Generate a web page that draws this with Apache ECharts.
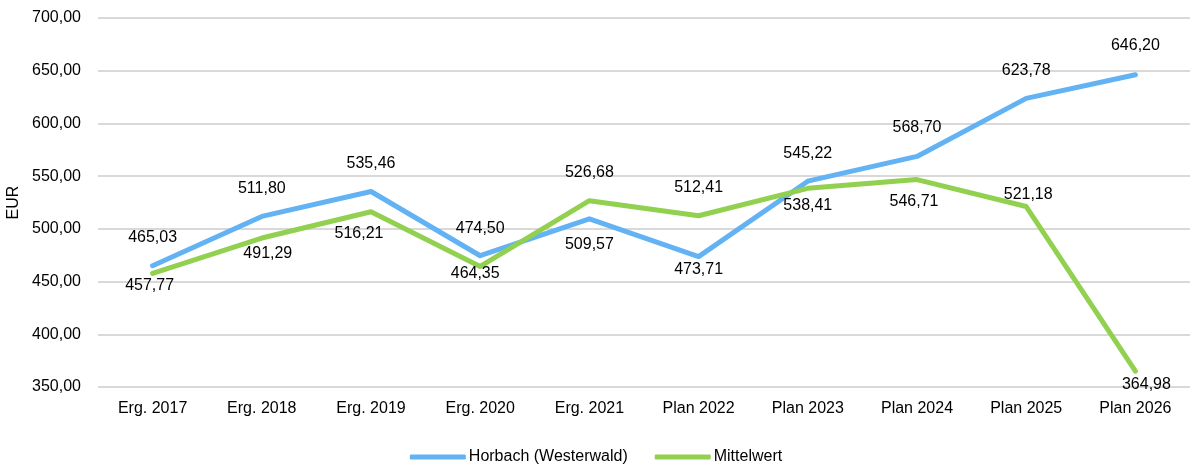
<!DOCTYPE html>
<html>
<head>
<meta charset="utf-8">
<script src="https://cdn.jsdelivr.net/npm/echarts@6/dist/echarts.min.js"></script>
<style>
  html, body { margin: 0; padding: 0; background: #fff; }
  #chart { width: 1192px; height: 468px; }
</style>
</head>
<body>
<div id="chart"></div>
<script>
// Daten
const categories = ['Erg. 2017', 'Erg. 2018', 'Erg. 2019', 'Erg. 2020', 'Erg. 2021',
  'Plan 2022', 'Plan 2023', 'Plan 2024', 'Plan 2025', 'Plan 2026'];
const horbach = [465.03, 511.80, 535.46, 474.50, 509.57, 473.71, 545.22, 568.70, 623.78, 646.20];
const mittelwert = [457.77, 491.29, 516.21, 464.35, 526.68, 512.41, 538.41, 546.71, 521.18, 364.98];
const seriesNames = ['Horbach (Westerwald)', 'Mittelwert'];

// Lage der Beschriftungen (wie im Original manuell verschoben)
const horbachLabelOffsets = [[0, -28], [0, -28], [0, -28], [0, -27], [0, 26],
  [0, 13], [0, -28], [0, -29], [0, -28], [0, -29]];
const mittelLabelOffsets = [[-3, 12], [6, 16], [-12, 22], [-5, 7], [0, -28],
  [0, -28], [0, 17], [-3, 22], [2, -12], [11, 13]];

const FONT = '"Liberation Sans", Arial, sans-serif';
const FS = 16;
const fmt = v => Number(v).toFixed(2).replace('.', ',');

const withLabels = (values, offsets) => values.map((v, i) => ({
  value: v,
  label: { offset: offsets[i] }
}));

const lineSeries = (name, values, offsets, color, z) => ({
  name: name,
  type: 'line',
  data: withLabels(values, offsets),
  symbol: 'circle',
  symbolSize: 1,
  showSymbol: true,
  color: color,
  itemStyle: { color: color },
  lineStyle: { width: 5, color: color, cap: 'round', join: 'round' },
  label: {
    show: true,
    position: 'inside',
    color: '#000',
    fontFamily: FONT,
    fontSize: FS,
    formatter: p => fmt(p.value)
  },
  z: z
});

const chart = echarts.init(document.getElementById('chart'));
chart.setOption({
  animation: false,
  textStyle: { fontFamily: FONT },
  grid: { left: 98, right: 2, top: 18, bottom: 81, outerBoundsMode: 'none', containLabel: false },
  legend: {
    bottom: -2,
    left: 'center',
    itemWidth: 56,
    itemHeight: 5,
    itemGap: 27,
    icon: 'roundRect',
    textStyle: { fontFamily: FONT, fontSize: FS, color: '#000', padding: [0, 0, 0, -2] },
    data: seriesNames
  },
  xAxis: {
    type: 'category',
    data: categories,
    boundaryGap: true,
    axisLine: { show: false },
    axisTick: { show: false },
    axisLabel: { color: '#000', fontFamily: FONT, fontSize: FS, margin: 14 }
  },
  yAxis: {
    type: 'value',
    min: 350,
    max: 700,
    interval: 50,
    name: 'EUR',
    nameLocation: 'middle',
    nameGap: 74,
    nameRotate: 90,
    nameTextStyle: { color: '#000', fontFamily: FONT, fontSize: FS },
    axisLine: { show: false },
    axisTick: { show: false },
    axisLabel: { color: '#000', fontFamily: FONT, fontSize: FS, margin: 17, formatter: fmt },
    splitLine: { lineStyle: { color: '#d9d9d9', width: 2 } }
  },
  series: [
    lineSeries(seriesNames[0], horbach, horbachLabelOffsets, '#63b3f4', 2),
    lineSeries(seriesNames[1], mittelwert, mittelLabelOffsets, '#92d050', 3)
  ]
});
</script>
</body>
</html>
